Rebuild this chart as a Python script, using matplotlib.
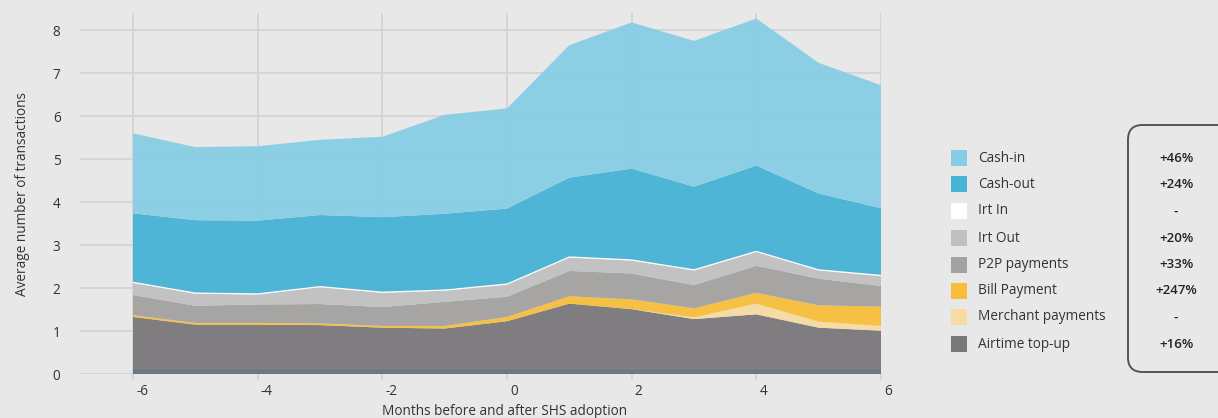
import matplotlib.pyplot as plt
from matplotlib.patches import FancyBboxPatch, Rectangle
from matplotlib.transforms import ScaledTranslation
import numpy as np

plt.rcParams['font.family'] = ['Open Sans', 'DejaVu Sans']
plt.rcParams['axes.unicode_minus'] = False

months = [-6, -5, -4, -3, -2, -1, 0, 1, 2, 3, 4, 5, 6]

# stacked from the bottom up
base = [0.12] * 13
airtime = [1.21, 1.03, 1.03, 1.02, 0.96, 0.94, 1.11, 1.52, 1.39, 1.16, 1.27, 0.96, 0.89]
merchant = [0, 0, 0, 0, 0, 0, 0, 0, 0, 0.04, 0.25, 0.14, 0.11]
bill = [0.04, 0.04, 0.04, 0.04, 0.04, 0.06, 0.10, 0.17, 0.23, 0.21, 0.25, 0.38, 0.45]
p2p = [0.47, 0.40, 0.43, 0.45, 0.44, 0.56, 0.47, 0.59, 0.60, 0.54, 0.63, 0.62, 0.48]
irt_out = [0.28, 0.28, 0.23, 0.39, 0.33, 0.26, 0.28, 0.31, 0.30, 0.34, 0.32, 0.19, 0.23]
irt_in = [0.03] * 13
cash_out = [1.59, 1.68, 1.69, 1.65, 1.73, 1.76, 1.74, 1.83, 2.11, 1.92, 1.98, 1.76, 1.55]
cash_in = [1.86, 1.70, 1.73, 1.75, 1.87, 2.30, 2.33, 3.08, 3.40, 3.39, 3.42, 3.04, 2.86]

legend_labels = ['Cash-in', 'Cash-out', 'Irt In', 'Irt Out', 'P2P payments',
                 'Bill Payment', 'Merchant payments', 'Airtime top-up']
changes = ['+46%', '+24%', '-', '+20%', '+33%', '+247%', '-', '+16%']

bg = '#e8e8e8'
col_base = '#6b737b'
col = {
    'Airtime top-up': '#7a777a',
    'Merchant payments': '#f6dba3',
    'Bill Payment': '#f7be3b',
    'P2P payments': '#a3a2a0',
    'Irt Out': '#c0c0c0',
    'Irt In': '#ffffff',
    'Cash-out': '#46b3d7',
    'Cash-in': '#87cee4',
}

fig = plt.figure(figsize=(12.18, 4.18), dpi=100, facecolor=bg)
ax = fig.add_axes([0.0657, 0.105, 0.6576, 0.864])
ax.set_facecolor(bg)

series = [base, airtime, merchant, bill, p2p, irt_out, irt_in, cash_out, cash_in]
names = ['base', 'Airtime top-up', 'Merchant payments', 'Bill Payment', 'P2P payments',
         'Irt Out', 'Irt In', 'Cash-out', 'Cash-in']
colors = [col_base] + [col[n] for n in names[1:]]
ax.stackplot(months, *series, colors=colors, linewidth=0, alpha=0.95, zorder=2)

ax.set_xlim(-6.85, 6)
ax.set_ylim(0, 8.4)
ax.set_xticks([-6, -4, -2, 0, 2, 4, 6])
ax.set_yticks(range(0, 9))
ax.grid(True, color='#d3d3d3', linewidth=1.3, zorder=0)
ax.set_axisbelow(True)
for s in ax.spines.values():
    s.set_visible(False)
ax.tick_params(labelsize=9.8, labelcolor='#333333')
ax.tick_params(axis='y', length=0, pad=14)
ax.tick_params(axis='x', length=4, width=1.3, color='#d3d3d3', pad=3)
# x labels sit just right of their tick in the original
for lbl in ax.get_xticklabels():
    lbl.set_horizontalalignment('left')
    lbl.set_transform(lbl.get_transform() + ScaledTranslation(3 / 100, 0, fig.dpi_scale_trans))
ax.set_xlabel('Months before and after SHS adoption', fontsize=9.8, color='#333333')
ax.xaxis.set_label_coords(0.53, -0.083)
ax.set_ylabel('Average number of transactions', fontsize=9.8, color='#333333', labelpad=16)

# legend and percent column
W, H = 1218.0, 418.0
row_y = [158, 184, 211, 238, 265, 291, 317, 344]
for lab, pct, yy in zip(legend_labels, changes, row_y):
    fig.patches.append(Rectangle((951 / W, 1 - (yy + 8) / H), 16 / W, 16 / H,
                                 transform=fig.transFigure, color=col[lab], linewidth=0))
    fig.text(978 / W, 1 - yy / H, lab, fontsize=9.8, color='#333333', va='center', ha='left')
    fig.text(1176 / W, 1 - yy / H, pct, fontsize=9.5, color='#222222', va='center',
             ha='center', fontweight='semibold')

box = FancyBboxPatch((1128 / W, 1 - 372 / H), 120 / W, 247 / H, transform=fig.transFigure,
                     boxstyle='round,pad=0,rounding_size=0.012', facecolor='none',
                     edgecolor='#555555', linewidth=1.4, mutation_aspect=W / H)
fig.patches.append(box)

fig.savefig('out.png', dpi=100, facecolor=bg)
